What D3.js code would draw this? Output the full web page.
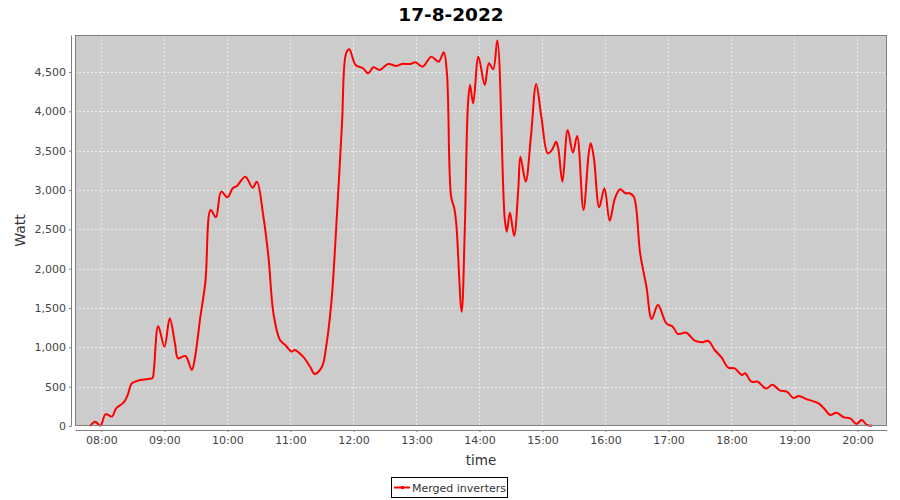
<!DOCTYPE html>
<html>
<head>
<meta charset="utf-8">
<script src="https://cdn.jsdelivr.net/npm/d3@7"></script>
<style>
  html, body { margin: 0; padding: 0; background: #ffffff; }
  svg { display: block; font-family: "DejaVu Sans", sans-serif; }
</style>
</head>
<body>
<svg id="chart" width="900" height="500"></svg>
<script>
const title = "17-8-2022";
const seriesName = "Merged inverters";
const xAxisLabel = "time";
const yAxisLabel = "Watt";
const yTicks = [0, 500, 1000, 1500, 2000, 2500, 3000, 3500, 4000, 4500];
const xTickLabels = ["08:00","09:00","10:00","11:00","12:00","13:00","14:00","15:00","16:00","17:00","18:00","19:00","20:00"];
const xDomain = ["07:34:48", "20:28:06"];
const yDomain = [0, 4970];

const times = [
  "07:49","07:54","07:59","08:04","08:10","08:14","08:21","08:25","08:29","08:37",
  "08:48","08:49","08:54","09:00","09:05","09:10","09:13","09:20","09:26","09:29",
  "09:34","09:39","09:44","09:49","09:54","10:00","10:05","10:09","10:17","10:24",
  "10:28","10:34","10:39","10:44","10:50","10:55","11:01","11:04","11:12","11:19",
  "11:23","11:30","11:34","11:39","11:43","11:49","11:53","11:56","12:02","12:09",
  "12:14","12:19","12:25","12:33","12:41","12:46","12:54","12:59","13:06","13:14",
  "13:21","13:26","13:29","13:33","13:36","13:38","13:43","13:46","13:49","13:51",
  "13:54","13:59","14:05","14:09","14:13","14:17","14:24","14:26","14:29","14:33",
  "14:37","14:39","14:44","14:49","14:54","14:59","15:05","15:09","15:13","15:15",
  "15:19","15:24","15:29","15:33","15:39","15:44","15:46","15:49","15:54","15:59",
  "16:04","16:09","16:14","16:19","16:23","16:27","16:33","16:39","16:44","16:50",
  "16:58","17:04","17:09","17:17","17:25","17:32","17:38","17:44","17:50","17:57",
  "18:03","18:10","18:13","18:19","18:25","18:33","18:39","18:46","18:53","18:59",
  "19:04","19:12","19:23","19:28","19:34","19:40","19:47","19:53","19:59","20:04",
  "20:09","20:14"
];
const watts = [
  0,55,5,150,120,225,296,394,543,585,
  606,620,1271,1008,1369,1051,860,890,712,864,
  1369,1835,2746,2653,2979,2907,3022,3051,3169,3029,
  3106,2682,2152,1411,1093,1030,945,966,881,746,
  661,754,1008,1580,2386,3826,4738,4788,4589,4547,
  4484,4560,4525,4602,4576,4602,4602,4623,4568,4695,
  4631,4750,4484,2915,2767,2555,1453,2491,4081,4335,
  4102,4695,4335,4610,4534,4900,2640,2470,2712,2415,
  3022,3424,3106,3678,4348,3924,3467,3509,3614,3530,
  3106,3763,3475,3687,2746,3458,3594,3403,2780,3022,
  2610,2894,3009,2958,2958,2915,2195,1771,1360,1538,
  1305,1262,1170,1186,1084,1064,1081,966,881,741,
  733,648,670,563,563,476,525,453,434,356,
  381,339,288,225,140,169,110,98,25,76,
  13,5
];

const parseT = d3.timeParse("%H:%M");
const parseTS = d3.timeParse("%H:%M:%S");
const data = times.map((t, i) => ({ t: parseT(t), v: watts[i] }));

const svg = d3.select("#chart");
const plot = { left: 75, top: 35, right: 887, bottom: 426 };
const axisGap = 4;

const x = d3.scaleTime()
  .domain([parseTS(xDomain[0]), parseTS(xDomain[1])])
  .range([plot.left, plot.right]);
const y = d3.scaleLinear().domain(yDomain).range([plot.bottom, plot.top]);

const xTicks = xTickLabels.map(s => parseT(s));

// plot background
svg.append("rect")
  .attr("x", plot.left).attr("y", plot.top)
  .attr("width", plot.right - plot.left).attr("height", plot.bottom - plot.top)
  .attr("fill", "#cccccc");

// grid lines
const grid = svg.append("g");
grid.selectAll("line.v").data(xTicks).enter().append("line")
  .attr("x1", d => Math.round(x(d)) + 0.5).attr("x2", d => Math.round(x(d)) + 0.5)
  .attr("y1", plot.top).attr("y2", plot.bottom)
  .attr("stroke", "#ffffff").attr("stroke-width", 0.6).attr("stroke-dasharray", "2,2");
grid.selectAll("line.h").data(yTicks.filter(d => d > 0)).enter().append("line")
  .attr("y1", d => Math.round(y(d)) + 0.5).attr("y2", d => Math.round(y(d)) + 0.5)
  .attr("x1", plot.left).attr("x2", plot.right)
  .attr("stroke", "#ffffff").attr("stroke-width", 0.6).attr("stroke-dasharray", "2,2");

// line
const line = d3.line()
  .x(d => x(d.t)).y(d => y(d.v))
  .curve(d3.curveCatmullRom.alpha(0.5));
svg.append("path").datum(data)
  .attr("d", line)
  .attr("fill", "none").attr("stroke", "#ff0000").attr("stroke-width", 2)
  .attr("stroke-linejoin", "round");

// plot outline
svg.append("rect")
  .attr("x", plot.left + 0.5).attr("y", plot.top + 0.5)
  .attr("width", plot.right - plot.left - 1).attr("height", plot.bottom - plot.top - 1)
  .attr("fill", "none").attr("stroke", "#808080").attr("stroke-width", 1);

// axes
const xAxis = d3.axisBottom(x).tickValues(xTicks).tickSizeInner(2).tickSizeOuter(0).tickPadding(4)
  .tickFormat(d3.timeFormat("%H:%M"));
const gx = svg.append("g").attr("transform", `translate(0,${plot.bottom + axisGap})`).call(xAxis);
const yAxis = d3.axisLeft(y).tickValues(yTicks).tickSizeInner(2).tickSizeOuter(0).tickPadding(3)
  .tickFormat(d3.format(","));
const gy = svg.append("g").attr("transform", `translate(${plot.left - axisGap},0)`).call(yAxis);
[gx, gy].forEach(g => {
  g.select(".domain").attr("stroke", "#808080");
  g.selectAll(".tick line").attr("stroke", "#808080");
  g.selectAll(".tick text").attr("fill", "#444444").style("font-size", "11px")
    .style("font-family", "'DejaVu Sans', sans-serif");
});

// title
svg.append("text").attr("x", 451).attr("y", 21).attr("text-anchor", "middle")
  .style("font-size", "18.5px").style("font-weight", "bold").attr("fill", "#000")
  .text(title);

// axis labels
svg.append("text").attr("x", 481).attr("y", 465).attr("text-anchor", "middle")
  .style("font-size", "13.5px").attr("fill", "#333333").text(xAxisLabel);
svg.append("text").attr("transform", `translate(25,${(plot.top + plot.bottom) / 2}) rotate(-90)`)
  .attr("text-anchor", "middle")
  .style("font-size", "14px").attr("fill", "#333333").text(yAxisLabel);

// legend
const lg = svg.append("g");
lg.append("rect").attr("x", 391.5).attr("y", 477.5).attr("width", 116).attr("height", 20)
  .attr("fill", "#ffffff").attr("stroke", "#000000").attr("stroke-width", 1);
lg.append("line").attr("x1", 394).attr("x2", 410).attr("y1", 487.5).attr("y2", 487.5)
  .attr("stroke", "#ff0000").attr("stroke-width", 2);
lg.append("rect").attr("x", 401).attr("y", 486).attr("width", 3).attr("height", 3).attr("fill", "#ff0000");
lg.append("text").attr("x", 412).attr("y", 491.5).style("font-size", "11px").attr("fill", "#333333")
  .text(seriesName);
</script>
</body>
</html>
